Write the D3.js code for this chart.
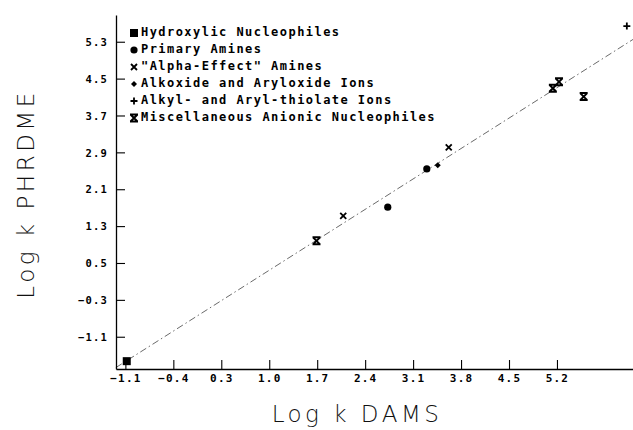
<!DOCTYPE html>
<html>
<head>
<meta charset="utf-8">
<script src="https://cdn.jsdelivr.net/npm/d3@7"></script>
<style>
  html, body { margin: 0; padding: 0; background: #fff; }
  svg { display: block; }
</style>
</head>
<body>
<svg id="chart" width="633" height="430"></svg>
<script>
// ---- data ----
const seriesNames = [
  "Hydroxylic Nucleophiles",
  "Primary Amines",
  "\"Alpha-Effect\" Amines",
  "Alkoxide and Aryloxide Ions",
  "Alkyl- and Aryl-thiolate Ions",
  "Miscellaneous Anionic Nucleophiles"
];
const seriesSymbols = ["square", "circle", "cross", "diamond", "plus", "bowtie"];

const hydroxylic = [[-1.08, -1.63]];
const primaryAmines = [[2.73, 1.71], [3.30, 2.54]];
const alphaEffectAmines = [[2.08, 1.52], [3.62, 3.01]];
const alkoxides = [[3.46, 2.62]];
const thiolates = [[6.22, 5.64]];
const miscAnionic = [[1.69, 0.98], [5.14, 4.29], [5.23, 4.43], [5.59, 4.11]];
const seriesValues = [hydroxylic, primaryAmines, alphaEffectAmines, alkoxides, thiolates, miscAnionic];

const xTickValues = [-1.1, -0.4, 0.3, 1.0, 1.7, 2.4, 3.1, 3.8, 4.5, 5.2];
const yTickValues = [-1.1, -0.3, 0.5, 1.3, 2.1, 2.9, 3.7, 4.5, 5.3];
const fitLine = [[-1.24, -1.77], [6.31, 5.35]];

const xTitle = "Log k DAMS";
const yTitle = "Log k PHRDME";

// ---- layout ----
const svg = d3.select("#chart");
const x = d3.scaleLinear().domain([-1.237, 6.31]).range([116, 633]);
const y = d3.scaleLinear().domain([-1.80, 5.88]).range([369, 15]);

const monoFont = "'DejaVu Sans Mono', 'Liberation Mono', monospace";

// fit line
svg.append("path")
  .attr("d", d3.line().x(d => x(d[0])).y(d => y(d[1]))(fitLine))
  .attr("fill", "none")
  .attr("stroke", "#444")
  .attr("stroke-width", 0.8)
  .attr("stroke-dasharray", "7,3,1.5,3");

// x axis
const xAxis = d3.axisBottom(x).tickValues(xTickValues).tickSize(-9).tickSizeOuter(0)
  .tickFormat(d3.format(".1f"));
const gx = svg.append("g").attr("transform", "translate(0,369)").call(xAxis);
gx.select(".domain").attr("stroke", "#000").attr("stroke-width", 1.3);
gx.selectAll(".tick line").attr("stroke", "#000").attr("stroke-width", 1.1);
gx.selectAll(".tick text")
  .attr("y", 13).attr("dy", 0)
  .attr("font-family", monoFont).attr("font-weight", "bold")
  .attr("font-size", 11).attr("letter-spacing", 1.2)
  .attr("fill", "#000");

// y axis
const yAxis = d3.axisLeft(y).tickValues(yTickValues).tickSize(-9).tickSizeOuter(0)
  .tickFormat(d3.format(".1f"));
const gy = svg.append("g").attr("transform", "translate(116,0)").call(yAxis);
gy.select(".domain").attr("stroke", "#000").attr("stroke-width", 1.3);
gy.selectAll(".tick line").attr("stroke", "#000").attr("stroke-width", 1.1);
gy.selectAll(".tick text")
  .attr("x", -8).attr("dy", "0.35em")
  .attr("font-family", monoFont).attr("font-weight", "bold")
  .attr("font-size", 10.5).attr("letter-spacing", 1.2)
  .attr("fill", "#000");

// marker drawing
function drawSymbol(g, type, cx, cy) {
  const s = g.append("g").attr("transform", `translate(${cx},${cy})`);
  if (type === "square") {
    s.append("rect").attr("x", -4).attr("y", -4).attr("width", 8).attr("height", 8).attr("fill", "#000");
  } else if (type === "circle") {
    s.append("circle").attr("r", 3.6).attr("fill", "#000");
  } else if (type === "cross") {
    s.append("path").attr("d", "M-3,-3L3,3M3,-3L-3,3").attr("stroke", "#000").attr("stroke-width", 1.8).attr("fill", "none");
  } else if (type === "diamond") {
    s.append("path").attr("d", "M0,-3L3,0L0,3L-3,0Z").attr("fill", "#000");
  } else if (type === "plus") {
    s.append("path").attr("d", "M-3.5,0L3.5,0M0,-3.5L0,3.5").attr("stroke", "#000").attr("stroke-width", 1.8).attr("fill", "none");
  } else if (type === "bowtie") {
    s.append("path").attr("d", "M-4,-3.5L4,-3.5M-4,3.5L4,3.5M-3.5,-3.5L3.5,3.5M3.5,-3.5L-3.5,3.5")
      .attr("stroke", "#000").attr("stroke-width", 2).attr("fill", "none");
  }
}

// points
const gp = svg.append("g");
seriesValues.forEach((vals, i) => {
  vals.forEach(d => drawSymbol(gp, seriesSymbols[i], x(d[0]), y(d[1])));
});

// legend
const gl = svg.append("g");
seriesNames.forEach((name, i) => {
  const base = 36 + i * 17;
  drawSymbol(gl, seriesSymbols[i], 134, base - 3);
  gl.append("text")
    .attr("x", 141).attr("y", base)
    .attr("font-family", monoFont).attr("font-weight", "bold")
    .attr("font-size", 12).attr("letter-spacing", 1.45)
    .attr("fill", "#000")
    .text(name);
});

// axis titles
svg.append("text")
  .attr("x", 357).attr("y", 422)
  .attr("text-anchor", "middle")
  .attr("font-family", "'DejaVu Sans', sans-serif").attr("font-weight", 200)
  .attr("font-size", 23).attr("letter-spacing", 3.5)
  .attr("fill", "#111")
  .text(xTitle);

svg.append("text")
  .attr("transform", "translate(34,194) rotate(-90)")
  .attr("text-anchor", "middle")
  .attr("font-family", "'DejaVu Sans', sans-serif").attr("font-weight", 200)
  .attr("font-size", 23).attr("letter-spacing", 3.5)
  .attr("fill", "#111")
  .text(yTitle);
</script>
</body>
</html>
